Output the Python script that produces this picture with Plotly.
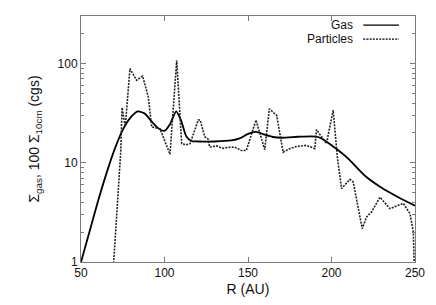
import plotly.graph_objects as go

# gas surface density (solid line)
gas_r = [50, 55, 60, 65, 70, 75, 80, 84, 88, 92, 96, 100, 103, 107, 110, 113, 116,
         120, 130, 140, 145, 150, 155, 160, 165, 170, 180, 188, 192, 196, 200, 205,
         210, 220, 230, 240, 250]
gas_s = [1.0, 2.0, 4.0, 7.6, 13.5, 21.5, 29, 33, 31.5, 26.5, 22.5, 21, 24, 33, 26.5, 18.5, 16.6,
         16.4, 16.4, 16.8, 17.6, 19.6, 20.5, 19.2, 18.2, 17.9, 18.3, 18.5, 18.2, 16.8, 15.0, 13.0,
         11.0, 7.4, 5.6, 4.5, 3.7]

# particles, 100 x Sigma_10cm (dotted line)
part_r = [69.4, 72, 73.8, 74.6, 76.5, 79.3, 83.3, 86.9, 90.3, 92.3, 97.3, 103.3, 107.3,
          110.3, 113, 115.3, 120.2, 121.3, 124.2, 126, 127, 131, 135, 138, 142, 146, 149,
          154.8, 160, 162.8, 167.2, 171, 175, 179, 183, 185, 190, 191, 197, 201, 203.5,
          206, 211, 213, 218.4, 221, 224, 229, 235, 243, 247, 249, 250]
part_s = [0.9, 4.0, 13, 36, 23, 89, 68, 75, 46, 23, 22, 12.2, 108,
          15.6, 15.2, 15.6, 27, 27, 18.2, 17.5, 14.4, 14.8, 14.0, 14.3, 14.4, 13.3, 13.3,
          27, 13.6, 35, 30, 12.8, 13.9, 14.6, 15.0, 15.0, 13.9, 21.6, 15.6, 34, 11.4,
          5.5, 6.8, 6.4, 2.17, 2.85, 3.2, 4.5, 3.45, 3.9, 3.07, 2.0, 0.5]

x_ticks = [50, 100, 150, 200, 250]
y_ticks = [1, 10, 100]
y_minor = [2, 3, 4, 5, 6, 7, 8, 9, 20, 30, 40, 50, 60, 70, 80, 90, 200, 300]

font = "Liberation Sans, Arial, sans-serif"
frame = "#7a7a7a"

fig = go.Figure()
fig.add_trace(go.Scatter(x=gas_r, y=gas_s, mode="lines", name="Gas",
                         line=dict(color="black", width=1.8, shape="spline", smoothing=0.6)))
fig.add_trace(go.Scatter(x=part_r, y=part_s, mode="lines", name="Particles",
                         line=dict(color="#222", width=1.6, dash="2px,1.2px")))

# the page body has an 8px margin, so the figure is 8px smaller each way
fig.update_layout(
    width=428, height=297,
    margin=dict(l=73, r=21, t=8, b=43),
    paper_bgcolor="white", plot_bgcolor="white",
    showlegend=False,
    font=dict(family=font, size=12, color="#111"),
)
fig.update_xaxes(range=[50, 250], tickvals=x_ticks, ticks="inside", ticklen=5,
                 tickcolor=frame, showline=True, linecolor=frame, linewidth=1,
                 mirror="ticks", showgrid=False, zeroline=False, automargin=False,
                 title=dict(text="R (AU)", standoff=4))
fig.update_yaxes(type="log", range=[0, 2.48], tickvals=y_ticks, ticks="inside", ticklen=5,
                 tickcolor=frame, showline=True, linecolor=frame, linewidth=1,
                 mirror="ticks", showgrid=False, zeroline=False, automargin=False,
                 minor=dict(ticks="inside", ticklen=3, tickcolor=frame, tickvals=y_minor,
                            showgrid=False),
                 title=dict(text="Σ<sub>gas</sub>, 100 Σ<sub>10cm</sub> (cgs)", standoff=14))

# legend drawn gnuplot-style: text right aligned, sample to the right
for i, (label, dash, w) in enumerate([("Gas", "solid", 1.3), ("Particles", "2px,1.2px", 1.3)]):
    yp = 0.963 - i * 0.057
    fig.add_annotation(x=0.82, y=yp, xref="paper", yref="paper", text=label,
                       showarrow=False, xanchor="right", yanchor="middle",
                       font=dict(size=12, color="#111"))
    fig.add_shape(type="line", xref="paper", yref="paper", x0=0.845, x1=0.952, y0=yp, y1=yp,
                  line=dict(color="black", width=w, dash=dash))

fig.write_html("out.html")
